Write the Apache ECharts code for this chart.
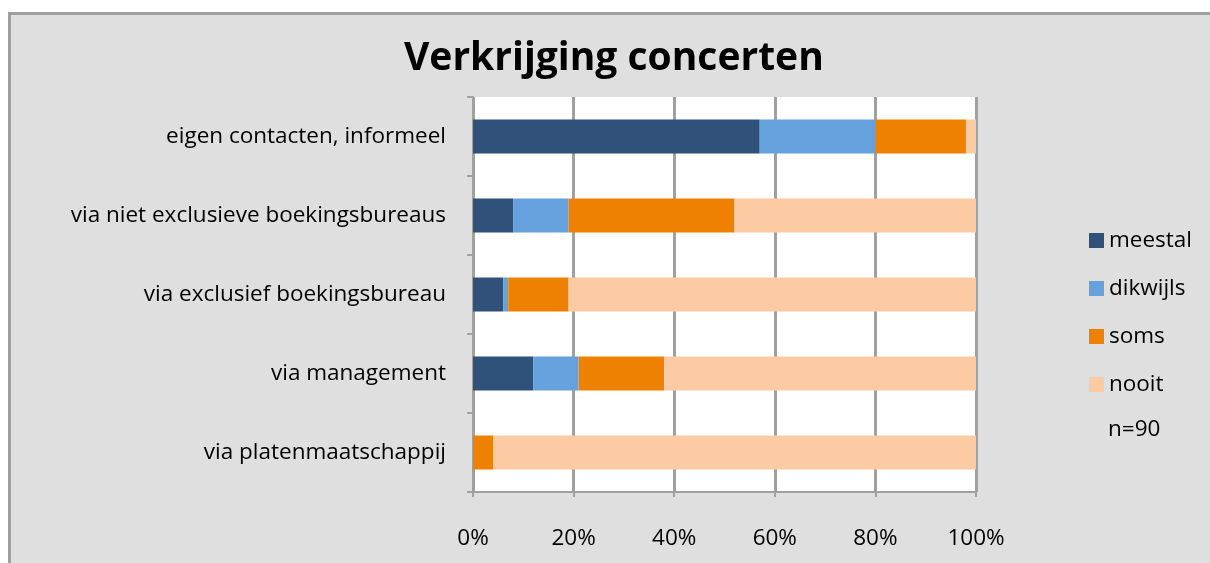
<!DOCTYPE html>
<html>
<head>
<meta charset="utf-8">
<script src="https://cdn.jsdelivr.net/npm/echarts@6/dist/echarts.min.js"></script>
<style>
html,body{margin:0;padding:0;background:#ffffff;}
#chart{width:1210px;height:563px;}
</style>
</head>
<body>
<div id="chart"></div>
<script>
const categories = ['eigen contacten, informeel','via niet exclusieve boekingsbureaus','via exclusief boekingsbureau','via management','via platenmaatschappij'];
const meestal  = [57, 8, 6, 12, 0];
const dikwijls = [23, 11, 1, 9, 0];
const soms     = [18, 33, 12, 17, 4];
const nooit    = [2, 48, 81, 62, 96];
const seriesNames = ['meestal','dikwijls','soms','nooit'];
const xTicks = [0, 20, 40, 60, 80, 100];
const noteText = 'n=90';

const colors = ['#30527A','#65A1DD','#EE8100','#FCCBA4'];
const FONT = 'Open Sans';
const FS = 22.5;
const chart = echarts.init(document.getElementById('chart'));
const dataSets = [meestal, dikwijls, soms, nooit];

chart.setOption({
  animation: false,
  backgroundColor: 'transparent',
  textStyle: {fontFamily: FONT},
  title: {
    text: 'Verkrijging concerten',
    left: 399, top: 34,
    textStyle: {fontFamily: FONT, fontSize: 39, fontWeight: 'bold', color: '#000'}
  },
  graphic: [
    {type:'rect', z:-10, shape:{x:9.5, y:13.5, width:1300, height:700}, style:{fill:'#DFDFDF', stroke:'#A0A0A0', lineWidth:3}},
    {type:'text', left:1108, top:418, style:{text: noteText, font: FS + 'px "' + FONT + '"', fill:'#000'}}
  ],
  legend: {
    orient: 'vertical', left: 1084, top: 224,
    itemWidth: 15, itemHeight: 15, itemGap: 25,
    icon: 'rect',
    textStyle: {fontFamily: FONT, fontSize: FS, color: '#000'},
    data: seriesNames
  },
  grid: {left: 473, right: 234, top: 97, bottom: 71, show: true, backgroundColor: '#FFFFFF', borderWidth: 0},
  xAxis: {
    type: 'value', min: 0, max: 100, interval: 20,
    axisLine: {show: true, lineStyle: {color: '#A0A0A0', width: 2}},
    axisTick: {show: true, length: 5, lineStyle: {color: '#A0A0A0', width: 2}},
    splitLine: {show: true, lineStyle: {color: '#A0A0A0', width: 3}},
    axisLabel: {margin: 35, fontSize: FS, color: '#000', fontFamily: FONT, formatter: v => xTicks.includes(v) ? v + '%' : ''}
  },
  yAxis: {
    type: 'category', inverse: true, data: categories,
    axisLine: {show: true, lineStyle: {color: '#A0A0A0', width: 2}},
    axisTick: {show: true, length: 6, lineStyle: {color: '#A0A0A0', width: 2}},
    axisLabel: {margin: 27, fontSize: FS, color: '#000', fontFamily: FONT}
  },
  series: seriesNames.map((n, i) => ({
    name: n, type: 'bar', stack: 'total', barWidth: 34,
    itemStyle: {color: colors[i]},
    data: dataSets[i]
  }))
});
</script>
</body>
</html>
